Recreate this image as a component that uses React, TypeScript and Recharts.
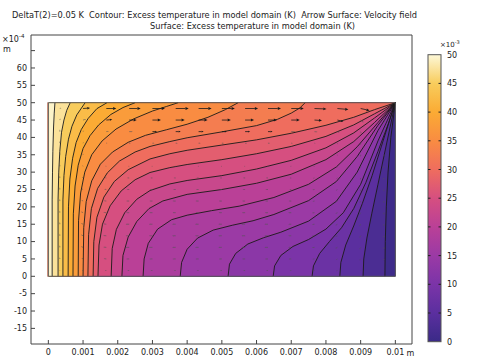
import React from "react";
import { ScatterChart, Scatter, XAxis, YAxis } from "recharts";

const W = 483;
const H = 362;
const FONT = "'DejaVu Sans', 'Liberation Sans', sans-serif";

// axis ticks: x in mm (labelled in m), y in 1e-4 m
const xTicks = [0, 1, 2, 3, 4, 5, 6, 7, 8, 9, 10];
const yTicks = [-15, -10, -5, 0, 5, 10, 15, 20, 25, 30, 35, 40, 45, 50, 55, 60, 65];
const barTicks = [0, 5, 10, 15, 20, 25, 30, 35, 40, 45, 50];

// contour levels, 1e-3 K (hot to cold)
const levels = [
  48.75, 46.25, 43.75, 41.25, 38.75, 36.25, 33.75, 31.25, 28.75, 26.25,
  23.75, 21.25, 18.75, 16.25, 13.75, 11.25, 8.75, 6.25, 3.75, 1.25,
];

// contour lines, [x mm, y 1e-4 m], bottom edge -> top edge / corner
const contours: [number, number][][] = [
  [[0.11, 0], [0.11, 22], [0.12, 30], [0.13, 36], [0.15, 43], [0.17, 47], [0.19, 50]],
  [[0.28, 0], [0.28, 22], [0.3, 30], [0.33, 36], [0.38, 41.5], [0.45, 45], [0.53, 47.8], [0.63, 50]],
  [[0.42, 0], [0.42, 22], [0.45, 29], [0.5, 34.5], [0.58, 39.5], [0.68, 43.2], [0.82, 46.5], [1.06, 50]],
  [[0.57, 0], [0.58, 20], [0.62, 28], [0.7, 34], [0.8, 38.5], [0.95, 42.3], [1.15, 45.5], [1.4, 48.3], [1.69, 50]],
  [[0.71, 0], [0.72, 18], [0.77, 26], [0.86, 32], [1.0, 36.8], [1.2, 40.5], [1.45, 43.6], [1.8, 46.6], [2.15, 48.6], [2.5, 50]],
  [[0.86, 0], [0.87, 16], [0.93, 24], [1.05, 30], [1.25, 35], [1.55, 39], [1.95, 42.4], [2.45, 45.3], [3.0, 47.6], [3.4, 48.9], [3.74, 50]],
  [[1.0, 0], [1.02, 14], [1.09, 21.5], [1.25, 27.5], [1.5, 32.3], [1.85, 35.8], [2.3, 38.6], [2.8, 40.6], [3.4, 42.2], [4.0, 43.8], [4.6, 45.8], [5.1, 48], [5.47, 50]],
  [[1.14, 0], [1.16, 12], [1.24, 19.5], [1.42, 25.3], [1.7, 29.8], [2.05, 33.2], [2.5, 35.8], [2.93, 37.4], [3.5, 38.8], [4.0, 39.9], [5.0, 41.6], [6.0, 43.4], [6.6, 45.2], [7.0, 47], [7.25, 48.5], [7.4, 50]],
  [[1.29, 0], [1.31, 10], [1.4, 17], [1.6, 22.8], [1.9, 27.3], [2.3, 30.7], [2.93, 33.8], [3.5, 35.3], [4.0, 36.3], [5.0, 37.8], [6.0, 39.3], [7.0, 41.2], [8.0, 43.5], [8.8, 45.8], [9.4, 48], [10, 50]],
  [[1.43, 0], [1.46, 9], [1.56, 15], [1.78, 20.3], [2.1, 24.6], [2.5, 27.8], [2.93, 29.9], [3.5, 31.3], [4.0, 32.2], [5.0, 33.6], [6.0, 35.3], [7.0, 37.4], [8.0, 40.3], [8.8, 43.6], [9.4, 46.8], [10, 50]],
  [[1.81, 0], [1.84, 8], [1.96, 13.5], [2.2, 18.3], [2.55, 22.2], [2.93, 24.7], [3.5, 26.6], [4.0, 27.6], [5.0, 29], [6.0, 30.9], [7.0, 33.4], [8.0, 37], [8.8, 41.3], [9.4, 45.6], [10, 50]],
  [[2.12, 0], [2.15, 6], [2.3, 11.3], [2.55, 15.8], [2.9, 19.5], [3.3, 21.7], [4.0, 23.6], [5.0, 25], [6.0, 26.8], [7.0, 29.4], [8.0, 33.6], [8.8, 38.8], [9.4, 44.3], [10, 50]],
  [[2.73, 0], [2.76, 5], [2.88, 9.5], [3.15, 13.6], [3.55, 16.3], [4.0, 17.6], [4.7, 18.9], [5.5, 20.2], [6.5, 22.7], [7.5, 26.5], [8.3, 31.5], [8.9, 37.3], [9.5, 44.3], [10, 50]],
  [[3.8, 0], [3.84, 4], [4.0, 7.8], [4.3, 11], [4.75, 13.3], [5.3, 14.7], [5.9, 16], [6.5, 17.8], [7.5, 21.8], [8.3, 27.3], [8.9, 34.5], [9.5, 43.5], [10, 50]],
  [[5.18, 0], [5.22, 3.5], [5.4, 6.6], [5.75, 9.3], [6.2, 11.1], [6.7, 12.7], [7.5, 15.9], [8.3, 21.6], [8.9, 30], [9.5, 42], [10, 50]],
  [[6.48, 0], [6.52, 3], [6.7, 6], [7.05, 8.6], [7.5, 10.6], [8.0, 13.6], [8.5, 18.3], [9.0, 26.5], [9.5, 39], [10, 50]],
  [[7.6, 0], [7.64, 3], [7.82, 6.6], [8.1, 10], [8.45, 14], [8.8, 19.5], [9.15, 27], [9.5, 36], [9.8, 44], [10, 50]],
  [[8.4, 0], [8.43, 4], [8.57, 9], [8.8, 14.5], [9.05, 21], [9.33, 29], [9.6, 37.5], [9.82, 44.5], [10, 50]],
  [[9.07, 0], [9.09, 5], [9.18, 11], [9.32, 18], [9.5, 26.5], [9.68, 35], [9.85, 43], [10, 50]],
  [[9.7, 0], [9.71, 10], [9.74, 20], [9.79, 30], [9.87, 40], [10, 50]],
];

const domainBox: [number, number][] = [[0, 0], [10, 0], [10, 50], [0, 50], [0, 0]];

// arrow grid (tail positions) and velocity components, rows bottom -> top
const arrowX = [0.33, 1.0, 1.67, 2.33, 3.0, 3.67, 4.33, 5.0, 5.67, 6.33, 7.0, 7.67, 8.33, 9.0, 9.67];
const arrowY = [1.67, 5, 8.33, 11.67, 15, 18.33, 21.67, 25, 28.33, 31.67, 35, 38.33, 41.67, 45, 48.33];
const arrowU = [
  [0, -1, -1.5, -2, -2, -2, -2, -2, -2, -2, -1.5, -1.5, -1, -0.5, 0],
  [0, -1.5, -2.5, -3, -3, -3, -3, -3, -3, -3, -2.5, -2, -1.5, -1, 0],
  [0, -2, -3, -3.5, -3.5, -3.5, -3.5, -3.5, -3.5, -3.5, -3, -2.5, -2, -1, 0],
  [0, -2, -3, -3.5, -3.5, -3.5, -3.5, -3.5, -3.5, -3.5, -3, -2.5, -2, -1, 0],
  [0, -2, -3, -3.5, -3.5, -3.5, -3.5, -3.5, -3.5, -3.5, -3, -2.5, -2, -1, 0],
  [0, -2, -3, -3, -3, -3, -3, -3, -3, -3, -3, -2.5, -2, -1, 0],
  [0, -1.5, -2.5, -3, -3, -3, -3, -3, -3, -3, -2.5, -2, -1.5, -1, 0],
  [0, -1.5, -2, -2.5, -2.5, -2.5, -2.5, -2.5, -2.5, -2.5, -2, -2, -1.5, -0.5, 0],
  [0, -1, -1.5, -2, -2, -2, -2, -2, -2, -2, -1.5, -1.5, -1, -0.5, 0],
  [0, -0.5, -1, -1, -1, -1, -1, -1, -1, -1, -1, -1, -0.5, 0, 0],
  [0, 0, 0, 0, 0, 0, 0, 0, 0, 0, 0, 0, 0, 0, 0],
  [0, 0.5, 1, 1.5, 2, 2, 2, 2, 2, 2, 1.5, 1, 0.5, 0, 0],
  [0, 1, 2.5, 3.5, 4.5, 5, 5, 5, 5, 4.5, 4, 3, 2, 0.5, 0],
  [0.5, 3, 6, 7.5, 8.5, 9, 9, 9, 9, 9, 8.5, 7.5, 6, 3, 0.5],
  [1.5, 7, 10, 11.5, 12.5, 13, 13, 13, 13, 13, 12.5, 12, 11, 9, 3],
];
const arrowV = [
  [0.5, 0, 0, 0, 0, 0, 0, 0, 0, 0, 0, 0, -0.5, -0.5, -0.5],
  [1.5, 1, 0.3, 0, 0, 0, 0, 0, 0, 0, 0, -0.3, -1, -1.5, -1.5],
  [2, 1, 0.3, 0, 0, 0, 0, 0, 0, 0, 0, -0.3, -1, -2, -2],
  [2, 1, 0.3, 0, 0, 0, 0, 0, 0, 0, 0, -0.3, -1, -2, -2],
  [2, 1, 0.3, 0, 0, 0, 0, 0, 0, 0, 0, -0.3, -1, -2, -2],
  [2, 1, 0.3, 0, 0, 0, 0, 0, 0, 0, 0, -0.3, -1, -2, -2],
  [2, 1, 0.3, 0, 0, 0, 0, 0, 0, 0, 0, -0.3, -1, -2, -2],
  [2, 1, 0.3, 0, 0, 0, 0, 0, 0, 0, 0, -0.3, -1, -2, -2],
  [2, 1, 0.3, 0, 0, 0, 0, 0, 0, 0, 0, -0.3, -1, -2, -2],
  [2, 1, 0.3, 0, 0, 0, 0, 0, 0, 0, 0, -0.3, -1, -2, -2],
  [2, 1, 0.3, 0, 0, 0, 0, 0, 0, 0, 0, -0.3, -1, -2, -2],
  [2, 1, 0.3, 0, 0, 0, 0, 0, 0, 0, 0, -0.3, -1, -2, -2],
  [2, 1, 0.3, 0, 0, 0, 0, 0, 0, 0, 0, -0.3, -1, -2, -2],
  [1.5, 1, 0.5, 0, 0, 0, 0, 0, 0, 0, 0, -0.5, -1.5, -2.5, -2],
  [0.5, 0.5, 0, 0, 0, 0, 0, 0, 0, 0, 0, -0.5, -1, -2, -2],
];

const colorStops: [number, string][] = [
  [0, "#3a2a87"],
  [5, "#5b2f9f"],
  [10, "#7b34a8"],
  [15, "#9b3aa5"],
  [20, "#ba4097"],
  [25, "#d64f80"],
  [30, "#ef6d5e"],
  [35, "#f98c42"],
  [40, "#fbab34"],
  [45, "#f8cc5c"],
  [50, "#fdf8d8"],
];

function hex(c: string) {
  return [1, 3, 5].map((i) => parseInt(c.slice(i, i + 2), 16));
}

function cmap(v: number) {
  const t = Math.max(0, Math.min(50, v));
  for (let i = 1; i < colorStops.length; i++) {
    const [v1, c1] = colorStops[i];
    if (t <= v1) {
      const [v0, c0] = colorStops[i - 1];
      const f = (t - v0) / (v1 - v0);
      const a = hex(c0);
      const b = hex(c1);
      return `rgb(${a.map((x, j) => Math.round(x + (b[j] - x) * f)).join(",")})`;
    }
  }
  return colorStops[colorStops.length - 1][1];
}

const toPts = (line: [number, number][]) => line.map(([x, y]) => ({ x, y }));
const Empty = () => <g />;

const Arrow = (props: any) => {
  const { cx, cy, payload } = props;
  const dx = payload.u;
  const dy = -payload.v;
  const len = Math.hypot(dx, dy);
  if (len < 0.4) return <g />;
  const ex = cx + dx;
  const ey = cy + dy;
  const ux = dx / len;
  const uy = dy / len;
  const hs = Math.min(3.2, len * 0.4);
  const hw = hs * 0.45;
  const bx = ex - ux * hs;
  const by = ey - uy * hs;
  const strong = len > 4;
  const col = strong ? "#1a1a1a" : "#555";
  return (
    <g opacity={strong ? 1 : 0.75}>
      <line x1={cx} y1={cy} x2={bx} y2={by} stroke={col} strokeWidth={0.8} />
      <polygon points={`${ex},${ey} ${bx - uy * hw},${by + ux * hw} ${bx + uy * hw},${by - ux * hw}`} fill={col} />
    </g>
  );
};

export default function App() {
  const fills: { pts: { x: number; y: number }[]; color: string }[] = [
    { pts: toPts(domainBox), color: cmap(0.6) },
  ];
  for (let k = levels.length - 1; k >= 0; k--) {
    const upper = k === 0 ? 50 : levels[k - 1];
    fills.push({
      pts: toPts([...contours[k], [0, 50], [0, 0]]),
      color: cmap((levels[k] + upper) / 2),
    });
  }

  const arrows: { x: number; y: number; u: number; v: number }[] = [];
  arrowY.forEach((y, j) =>
    arrowX.forEach((x, i) => arrows.push({ x, y, u: arrowU[j][i], v: arrowV[j][i] }))
  );

  const axisStyle = { fill: "#222", fontSize: 8, fontFamily: FONT };
  const barTop = 54.7;
  const barBottom = 341.7;
  const barY = (v: number) => barBottom - ((barBottom - barTop) * v) / 50;

  return (
    <div style={{ position: "absolute", left: 0, top: 0, width: W, height: H, background: "#fff" }}>
      <ScatterChart width={W} height={H} margin={{ top: 34, right: 70, bottom: 17, left: 30 }}>
        <XAxis
          xAxisId="b"
          type="number"
          dataKey="x"
          domain={[-0.5, 10.48]}
          allowDataOverflow
          ticks={xTicks}
          orientation="bottom"
          height={1}
          tickSize={-4}
          tickMargin={9}
          tick={axisStyle}
          tickFormatter={(v: number) => (v === 0 ? "0" : String(+(v / 1000).toFixed(3)))}
          axisLine={{ stroke: "#444" }}
          tickLine={{ stroke: "#444" }}
        />
        <XAxis
          xAxisId="t"
          type="number"
          dataKey="x"
          domain={[-0.5, 10.48]}
          allowDataOverflow
          ticks={xTicks}
          orientation="top"
          height={1}
          tickSize={-4}
          tick={false}
          axisLine={{ stroke: "#444" }}
          tickLine={{ stroke: "#444" }}
        />
        <YAxis
          yAxisId="l"
          type="number"
          dataKey="y"
          domain={[-19.5, 69.5]}
          allowDataOverflow
          ticks={yTicks}
          orientation="left"
          width={1}
          tickSize={-4}
          tickMargin={8}
          tick={axisStyle}
          tickFormatter={(v: number) => (v === 65 ? "" : String(v))}
          axisLine={{ stroke: "#444" }}
          tickLine={{ stroke: "#444" }}
        />
        <YAxis
          yAxisId="r"
          type="number"
          dataKey="y"
          domain={[-19.5, 69.5]}
          allowDataOverflow
          ticks={yTicks}
          orientation="right"
          width={1}
          tickSize={-4}
          tick={false}
          axisLine={{ stroke: "#444" }}
          tickLine={{ stroke: "#444" }}
        />
        {fills.map((f, i) => (
          <Scatter
            key={`f${i}`}
            xAxisId="b"
            yAxisId="l"
            data={f.pts}
            line={{ fill: f.color, stroke: f.color, strokeWidth: 0.6 }}
            shape={Empty}
            isAnimationActive={false}
          />
        ))}
        {contours.map((c, i) => (
          <Scatter
            key={`c${i}`}
            xAxisId="b"
            yAxisId="l"
            data={toPts(c)}
            line={{ stroke: "#1a1a1a", strokeWidth: 0.9, fill: "none", strokeLinejoin: "round" }}
            shape={Empty}
            isAnimationActive={false}
          />
        ))}
        <Scatter
          xAxisId="b"
          yAxisId="l"
          data={toPts(domainBox)}
          line={{ stroke: "#555", strokeWidth: 1, fill: "none" }}
          shape={Empty}
          isAnimationActive={false}
        />
        <Scatter xAxisId="b" yAxisId="l" data={arrows} shape={Arrow} isAnimationActive={false} />
      </ScatterChart>

      <svg
        width={W}
        height={H}
        style={{ position: "absolute", left: 0, top: 0, pointerEvents: "none" }}
        fontFamily={FONT}
      >
        <defs>
          <linearGradient id="bar" x1="0" y1="1" x2="0" y2="0">
            {colorStops.map(([v, c]) => (
              <stop key={v} offset={v / 50} stopColor={c} />
            ))}
          </linearGradient>
        </defs>
        <text x={214.5} y={18} fontSize={8.5} textAnchor="middle" fill="#222" textLength={405} lengthAdjust="spacingAndGlyphs">
          {"DeltaT(2)=0.05 K\u00a0 Contour: Excess temperature in model domain (K)\u00a0 Arrow Surface: Velocity field"}
        </text>
        <text x={252.5} y={28.5} fontSize={8.5} textAnchor="middle" fill="#222" textLength={205} lengthAdjust="spacingAndGlyphs">
          Surface: Excess temperature in model domain (K)
        </text>
        <text x={2} y={41.5} fontSize={8} fill="#222">
          ×10<tspan dy={-3.5} fontSize={5.5}>-4</tspan>
        </text>
        <text x={3} y={51.5} fontSize={8} fill="#222">m</text>
        <text x={406.5} y={356} fontSize={8} fill="#222">m</text>

        <rect x={428} y={barTop} width={13} height={barBottom - barTop} fill="url(#bar)" stroke="#555" strokeWidth={1} />
        {barTicks.map((v) => (
          <g key={v}>
            {v > 0 && v < 50 && (
              <>
                <line x1={428} x2={430.5} y1={barY(v)} y2={barY(v)} stroke="#222" strokeWidth={1} />
                <line x1={438.5} x2={441} y1={barY(v)} y2={barY(v)} stroke="#222" strokeWidth={1} />
              </>
            )}
            <text x={447} y={barY(v) + 3} fontSize={8} fill="#222">
              {v}
            </text>
          </g>
        ))}
        <text x={440} y={47} fontSize={7} fill="#222">
          ×10<tspan dy={-3} fontSize={5}>-3</tspan>
        </text>
      </svg>
    </div>
  );
}
